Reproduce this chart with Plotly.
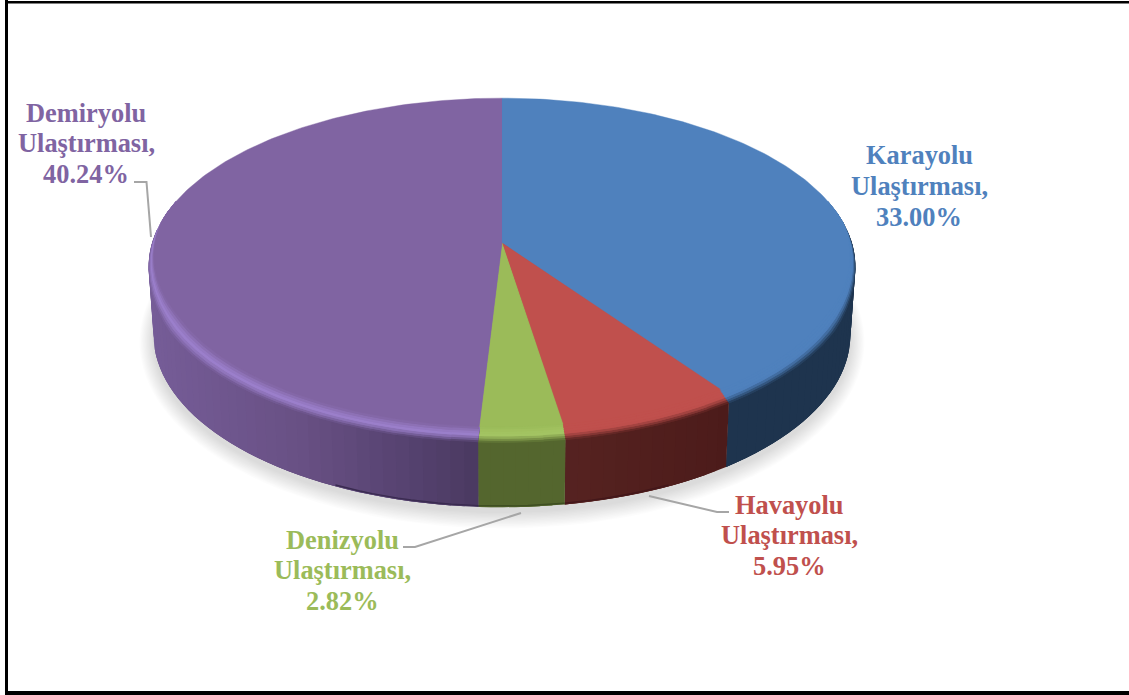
import math
import plotly.graph_objects as go

# Transport modes and their shares
categories = ["Karayolu", "Havayolu", "Denizyolu", "Demiryolu"]
series_name = "Ulaştırması,"
values = [33.00, 5.95, 2.82, 40.24]

# Styling per slice
top_colors = [(79, 129, 189), (192, 80, 77), (155, 187, 89), (128, 100, 162)]
text_colors = ["#4F81BD", "#C0504D", "#9BBB59", "#8064A2"]
highlight_colors = [(79, 129, 189), (192, 80, 77), (165, 198, 100), (156, 128, 204)]
# Wall colour sampled along the horizontal position: (x, rgb)
wall_ramps = [
    [(720, (30, 52, 78)), (860, (30, 52, 78))],
    [(560, (86, 35, 33)), (730, (76, 27, 26))],
    [(475, (84, 102, 46)), (570, (84, 102, 46))],
    [(145, (118, 93, 152)), (300, (104, 80, 132)), (400, (87, 67, 113)), (480, (74, 57, 96))],
]
edge_colors = ["#1b2f47", "#43171a", "#3f4f22", "#3a2b50"]

# Centre x positions and line y positions of the data labels
label_x = [919, 789, 342, 86]
label_y = [[155, 186, 217], [505, 535, 566], [540, 570, 601], [113, 143, 174]]
# Leader lines: Karayolu has none
leaders = {
    1: ([729, 717, 649], [512, 512, 496]),
    2: ([403, 415, 521], [547, 547, 513]),
    3: ([134, 146.5, 151], [182, 182, 237]),
}

# Perspective of the disc on the page
CX, CY, A, B, K = 502, 243, 350, 165, 0.139
BASE_Y, BASE_A, BASE_B = 311, 345, 169
BEVEL_R, BEVEL_DROP = 0.035, 8

WIDTH, HEIGHT = 1129, 695
total = sum(values)


def project(deg, r=1.0):
    t = math.radians(deg)
    u, v = r * math.sin(t), r * math.cos(t)
    w = 1 + K * v
    return CX + A * u / w, CY - B * v / w


def base_point(deg, grow=0.0, shift=0.0):
    t = math.radians(deg)
    u, v = math.sin(t), math.cos(t)
    w = 1 + K * v
    return CX + (BASE_A + grow) * u / w, BASE_Y + shift - (BASE_B + grow) * v / w


def front_factor(deg):
    c = math.cos(math.radians(deg))
    return max(0.0, min(1.0, (0.15 - c) / 0.6))


def bevel_point(deg, t):
    f = front_factor(deg)
    x, y = project(deg, 1 - BEVEL_R * f * (1 - t))
    return x, y + BEVEL_DROP * f * f * t


def mix(a, b, t):
    return tuple(a[i] + (b[i] - a[i]) * t for i in range(3))


def rgb(c):
    return "rgb(%d,%d,%d)" % tuple(round(v) for v in c)


def ramp_color(ramp, x):
    if x <= ramp[0][0]:
        return ramp[0][1]
    for (x0, c0), (x1, c1) in zip(ramp, ramp[1:]):
        if x <= x1:
            return mix(c0, c1, (x - x0) / (x1 - x0))
    return ramp[-1][1]


def frange(a, b, step):
    n = max(1, int(math.ceil((b - a) / step)))
    return [a + (b - a) * i / n for i in range(n + 1)]


fig = go.Figure()


def poly(xs, ys, color, line=0.0):
    fig.add_trace(go.Scatter(
        x=xs, y=ys, mode="lines", fill="toself", fillcolor=color,
        line=dict(color=color, width=line), hoverinfo="skip", showlegend=False))


# Angular extent of each slice, clockwise from twelve o'clock
bounds = []
acc = 0.0
for v in values:
    bounds.append((acc / total * 360, (acc + v) / total * 360))
    acc += v

# Soft ground shadow under the disc
for i in range(12):
    grow = 14 - i * 1.2
    pts = [base_point(d, grow, 5) for d in frange(70, 290, 3)]
    poly([p[0] for p in pts], [p[1] for p in pts], "rgba(0,0,0,0.012)")

# Side wall: each strip runs on under the next one so no seams show
for idx, (a0, a1) in enumerate(bounds):
    lo, hi = max(a0, 85), min(a1, 275)
    if hi <= lo:
        continue
    ds = frange(lo, hi, 2)
    for j in range(len(ds) - 1):
        d0, d1 = ds[j], ds[min(j + 3, len(ds) - 1)]
        arc = frange(d0, d1, 2)
        top = [project(d) for d in arc]
        low = [base_point(d) for d in reversed(arc)]
        pts = top + low
        col = ramp_color(wall_ramps[idx], project((ds[j] + ds[j + 1]) / 2)[0])
        poly([p[0] for p in pts], [p[1] for p in pts], rgb(col))
    # Darker seam along the very bottom at the front of the disc
    edge_lo, edge_hi = max(lo, 155), min(hi, 205)
    if edge_hi > edge_lo:
        pts = [base_point(d, -0.6, -0.6) for d in frange(edge_lo, edge_hi, 2)]
        fig.add_trace(go.Scatter(
            x=[p[0] for p in pts], y=[p[1] for p in pts], mode="lines",
            line=dict(color=edge_colors[idx], width=1.4),
            hoverinfo="skip", showlegend=False))

# Bevelled rim between the top face and the wall, painted outer layer first
LAYERS = [1.0, 0.88, 0.75, 0.6, 0.45, 0.3, 0.15, 0.0]
for idx, (a0, a1) in enumerate(bounds):
    lo, hi = max(a0, 75), min(a1, 285)
    if hi <= lo:
        continue
    for t1, t0 in zip(LAYERS, LAYERS[1:]):
        tm = (t0 + t1) / 2
        ds = frange(lo, hi, 4)
        for j in range(len(ds) - 1):
            d0, d1 = ds[j], ds[min(j + 2, len(ds) - 1)]
            mid = (ds[j] + ds[j + 1]) / 2
            wall = ramp_color(wall_ramps[idx], project(mid)[0])
            if tm < 0.5:
                col = mix(top_colors[idx], highlight_colors[idx], tm / 0.5)
            else:
                col = mix(highlight_colors[idx], wall, ((tm - 0.5) / 0.5) ** 1.3)
            arc = frange(d0, d1, 1)
            pts = [bevel_point(d, t1) for d in arc] + [(CX, CY)]
            poly([p[0] for p in pts], [p[1] for p in pts], rgb(col))

# Flat top face of each slice
for idx, (a0, a1) in enumerate(bounds):
    pts = [(CX, CY)] + [bevel_point(d, 0) for d in frange(a0, a1, 1)]
    poly([p[0] for p in pts], [p[1] for p in pts], rgb(top_colors[idx]), line=0.4)

# Leader lines
for xs, ys in leaders.values():
    fig.add_trace(go.Scatter(x=xs, y=ys, mode="lines",
                             line=dict(color="#A6A6A6", width=2),
                             hoverinfo="skip", showlegend=False))

# Data labels, one annotation per line to hold the tight leading
annotations = []
for idx, name in enumerate(categories):
    lines = [name, series_name, f"{values[idx]:.2f}%"]
    for line, y in zip(lines, label_y[idx]):
        annotations.append(dict(
            x=label_x[idx], y=y, text=line, showarrow=False,
            xanchor="center", yanchor="middle",
            font=dict(family="Liberation Serif", size=26.4, color=text_colors[idx], weight="bold"),
        ))

# Black frame, open on the right
frame = [(5, 0, 8, 692), (5, 1, WIDTH, 3.5), (5, 691, WIDTH, HEIGHT)]
shapes = [dict(type="rect", x0=x0, y0=y0, x1=x1, y1=y1, line=dict(width=0),
               fillcolor="#000000", layer="above") for x0, y0, x1, y1 in frame]

fig.update_layout(
    width=WIDTH, height=HEIGHT,
    margin=dict(l=0, r=0, t=0, b=0),
    paper_bgcolor="white", plot_bgcolor="white",
    xaxis=dict(range=[0, WIDTH], visible=False, fixedrange=True),
    yaxis=dict(range=[HEIGHT, 0], visible=False, fixedrange=True),
    annotations=annotations, shapes=shapes, showlegend=False,
)
fig.write_html("out.html", config=dict(displayModeBar=False))
